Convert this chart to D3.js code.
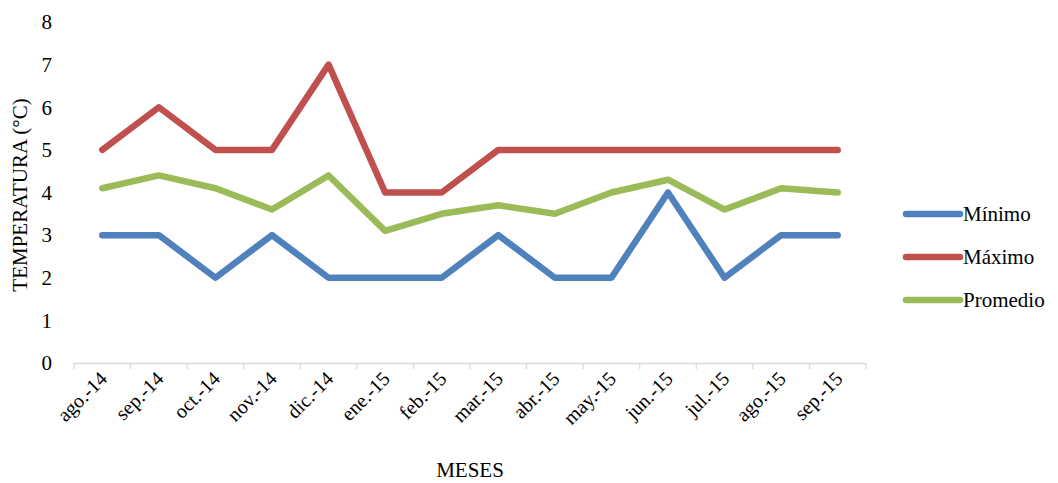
<!DOCTYPE html>
<html><head><meta charset="utf-8">
<script src="https://cdn.jsdelivr.net/npm/d3@7/dist/d3.min.js"></script>
</head><body style="margin:0">
<svg id="c" width="1058" height="483"></svg>
<script>
const months = ["ago.-14","sep.-14","oct.-14","nov.-14","dic.-14","ene.-15","feb.-15","mar.-15","abr.-15","may.-15","jun.-15","jul.-15","ago.-15","sep.-15"];
const minimo = [3,3,2,3,2,2,2,3,2,2,4,2,3,3];
const maximo = [5,6,5,5,7,4,4,5,5,5,5,5,5,5];
const promedio = [4.1,4.4,4.1,3.6,4.4,3.1,3.5,3.7,3.5,4.0,4.3,3.6,4.1,4.0];
const yTicks = [0,1,2,3,4,5,6,7,8];
const seriesNames = ["Mínimo","Máximo","Promedio"];
const seriesColors = ["#4F81BD","#C0504D","#9BBB59"];
const fam = "Liberation Serif";
const FF = `"${fam}", monospace`;

const svg = d3.select("#c");
const x = d3.scaleBand().domain(months).range([74, 866]);
const y = d3.scaleLinear().domain([0, 8]).range([363, 22]);

svg.append("g").selectAll("text").data(yTicks).join("text")
  .attr("x", 52).attr("y", d => y(d)).attr("dy", "0.35em")
  .attr("text-anchor", "end").attr("font-size", 21).style("font-family", () => FF).text(d => d);

const ax = svg.append("g").attr("stroke", "#D9D9D9").attr("stroke-width", 1.3);
ax.append("line").attr("x1", 74).attr("x2", 866).attr("y1", 363.5).attr("y2", 363.5);
const edges = months.map(m => x(m)).concat([866]);
ax.selectAll("line.t").data(edges).join("line").attr("class","t")
  .attr("x1", d => d).attr("x2", d => d).attr("y1", 363).attr("y2", 369);

svg.append("g").selectAll("text").data(months).join("text")
  .attr("transform", d => `translate(${x(d) + x.bandwidth()/2 + 6},380) rotate(-45)`)
  .attr("text-anchor", "end").attr("font-size", 20).style("font-family", () => FF).text(d => d);

const line = d3.line().x((d, i) => x(months[i]) + x.bandwidth()/2).y(d => y(d));
[minimo, maximo, promedio].forEach((s, k) => {
  svg.append("path").datum(s).attr("d", line).attr("fill", "none")
    .attr("stroke", seriesColors[k]).attr("stroke-width", 6.5)
    .attr("stroke-linejoin", "round").attr("stroke-linecap", "round");
});

svg.append("text").attr("transform", "translate(27,195) rotate(-90)")
  .attr("text-anchor", "middle").attr("font-size", 21).style("font-family", () => FF).text("TEMPERATURA (°C)");
svg.append("text").attr("x", 470).attr("y", 477).attr("text-anchor", "middle")
  .attr("font-size", 21).style("font-family", () => FF).text("MESES");

const lg = svg.append("g");
seriesNames.forEach((n, k) => {
  const yy = 214 + k * 43;
  lg.append("line").attr("x1", 906).attr("x2", 960).attr("y1", yy).attr("y2", yy)
    .attr("stroke", seriesColors[k]).attr("stroke-width", 6.5).attr("stroke-linecap", "round");
  lg.append("text").attr("x", 963).attr("y", yy).attr("dy", "0.35em")
    .attr("font-size", 21).style("font-family", () => FF).text(n);
});
</script></body></html>
